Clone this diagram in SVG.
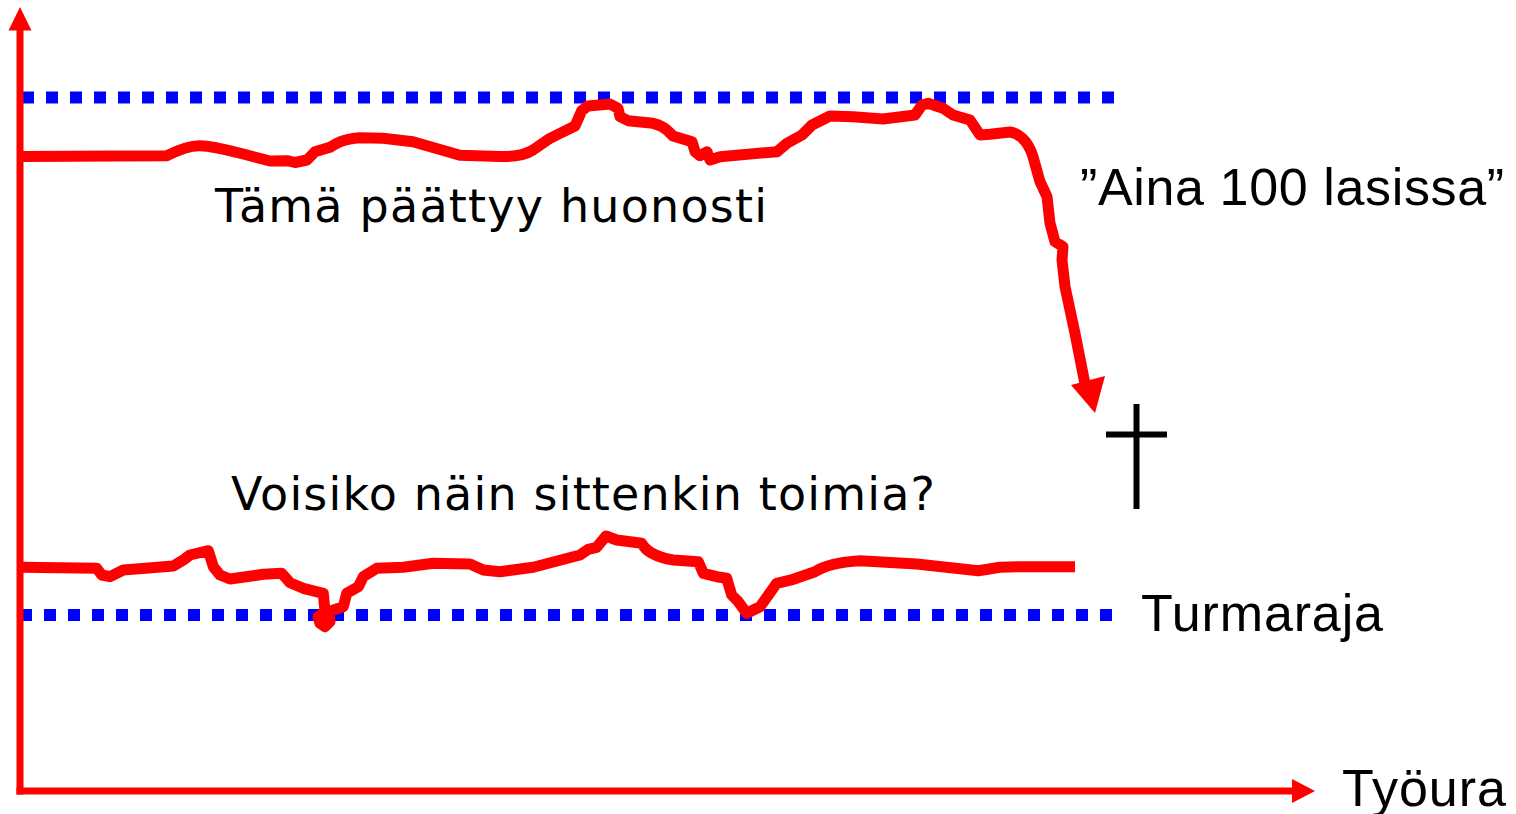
<svg xmlns="http://www.w3.org/2000/svg" width="1516" height="814" viewBox="0 0 1516 814">
<style>
.axis{stroke:#ff0000;stroke-width:7;fill:none}
.ahead{fill:#ff0000}
.limit{stroke:#0000ff;stroke-width:12;stroke-dasharray:12 12;fill:none}
.curve{stroke:#ff0000;stroke-width:11;fill:none;stroke-linejoin:round;stroke-linecap:butt}
.lblv{font-family:"DejaVu Sans","Verdana",sans-serif;font-size:46px;fill:#000}
.lbla{font-family:"Liberation Sans","Arial",sans-serif;font-size:52px;fill:#000}
.cross{stroke:#000;stroke-width:6;fill:none}
</style>
<rect width="1516" height="814" fill="#ffffff"/>
<g id="limits">
<line class="limit" x1="22" y1="97.5" x2="1114" y2="97.5"/>
<line class="limit" x1="20" y1="615" x2="1112" y2="615"/>
</g>
<g id="axes">
<line class="axis" x1="20" y1="794.5" x2="20" y2="28"/>
<polygon class="ahead" points="20,7 8.5,30.5 31.5,30.5"/>
<line class="axis" x1="16.5" y1="791" x2="1294" y2="791"/>
<polygon class="ahead" points="1315,791 1292,779 1292,803"/>
</g>
<g id="curves">
<path id="curve-top" class="curve" d="M 22 156.5 L 167 155.7 C 180 149 190 145.5 200 145.7 C 215 146 235 152 247 155 L 270 161 L 287 160.7 L 295 162.5 L 307 160 L 315 151.7 L 330 147.3 C 335 144 342 139 360 137.7 L 383 138.3 L 413 141.7 L 460 155.3 L 500 156.5 C 515 157 525 155 533 150 L 550 138.3 L 560 133.3 L 575 126 L 581.7 110.7 L 588 106 L 610 104 L 618 108.3 L 620 116.7 L 628 120.7 L 653 123.3 C 660 125 665 127 673 136 L 692 141.7 L 695 151.7 L 700 155.7 L 707 151.7 L 710 160 L 720 156.7 L 777 151.7 L 787 143.3 L 802 135 L 812 125 L 830 116 L 853 116.7 L 883 119 L 915 115 L 922 105 L 928 103.3 L 943 108.3 L 953 115 L 970 120 L 980 135 L 990 134.3 L 1010 132 C 1018 133 1028 140 1033 156.7 L 1040 181.7 L 1047 196.7 L 1050 223.3 L 1055 241.7 L 1063 246.7 L 1062 260 L 1065 286.7 L 1075 333.3 L 1085 384"/>
<polygon class="ahead" points="1095,413 1071,385 1105,376"/>
<path id="curve-bottom" class="curve" d="M 22 567.3 L 96.7 568.3 L 101.7 575 L 110 576.7 L 123.3 570 L 173.3 566 L 183.3 560 L 190 555 L 208.3 550.7 L 213.3 566.7 L 220 575 L 230 579 L 263.3 574.3 L 281.7 573.3 L 290 582.7 L 303.3 588.3 L 323.3 593.3 L 325 611.7 L 318 616.7 L 320 623.3 L 325 626.7 L 330 621.7 L 328.3 611.7 L 343.3 606.7 L 346.7 593.3 L 358.3 586.7 L 363.3 576.7 L 376.7 568.3 L 403.3 567.3 L 433.3 563.3 L 470 564 L 483.3 570 L 500 571.7 L 533.3 567.3 L 580 555 L 588.3 549.3 L 596.7 547.3 L 606 536 L 616.7 540 L 641.7 543.3 C 645 550 655 557 673.3 560 L 698.3 561.7 L 703.3 573.3 L 716.7 576.7 L 726.7 578.3 L 731.7 595 L 738.3 601.7 L 746.7 613.3 L 760 606.7 L 776.7 583.3 L 793.3 579.3 L 815 571.7 C 825 565 840 562 860 560.7 L 916.7 564 L 978.3 570.7 L 1000 567.3 L 1020 566.7 L 1075 566.7"/>
<circle cx="322" cy="619" r="8" fill="#ff0000"/>
</g>
<g id="cross">
<line class="cross" x1="1136.5" y1="404" x2="1136.5" y2="509"/>
<line class="cross" x1="1106" y1="434.5" x2="1167" y2="434.5"/>
</g>
<g id="label-top"><text class="lblv" x="215" y="222" textLength="552">Tämä päättyy huonosti</text></g>
<g id="label-bottom"><text class="lblv" x="231" y="510" textLength="704">Voisiko näin sittenkin toimia?</text></g>
<g id="label-aina"><text class="lbla" x="1080" y="205" textLength="424">”Aina 100 lasissa”</text></g>
<g id="label-turmaraja"><text class="lbla" x="1141" y="631" textLength="242">Turmaraja</text></g>
<g id="label-tyoura"><text class="lbla" x="1342" y="806" textLength="164">Työura</text></g>
</svg>
